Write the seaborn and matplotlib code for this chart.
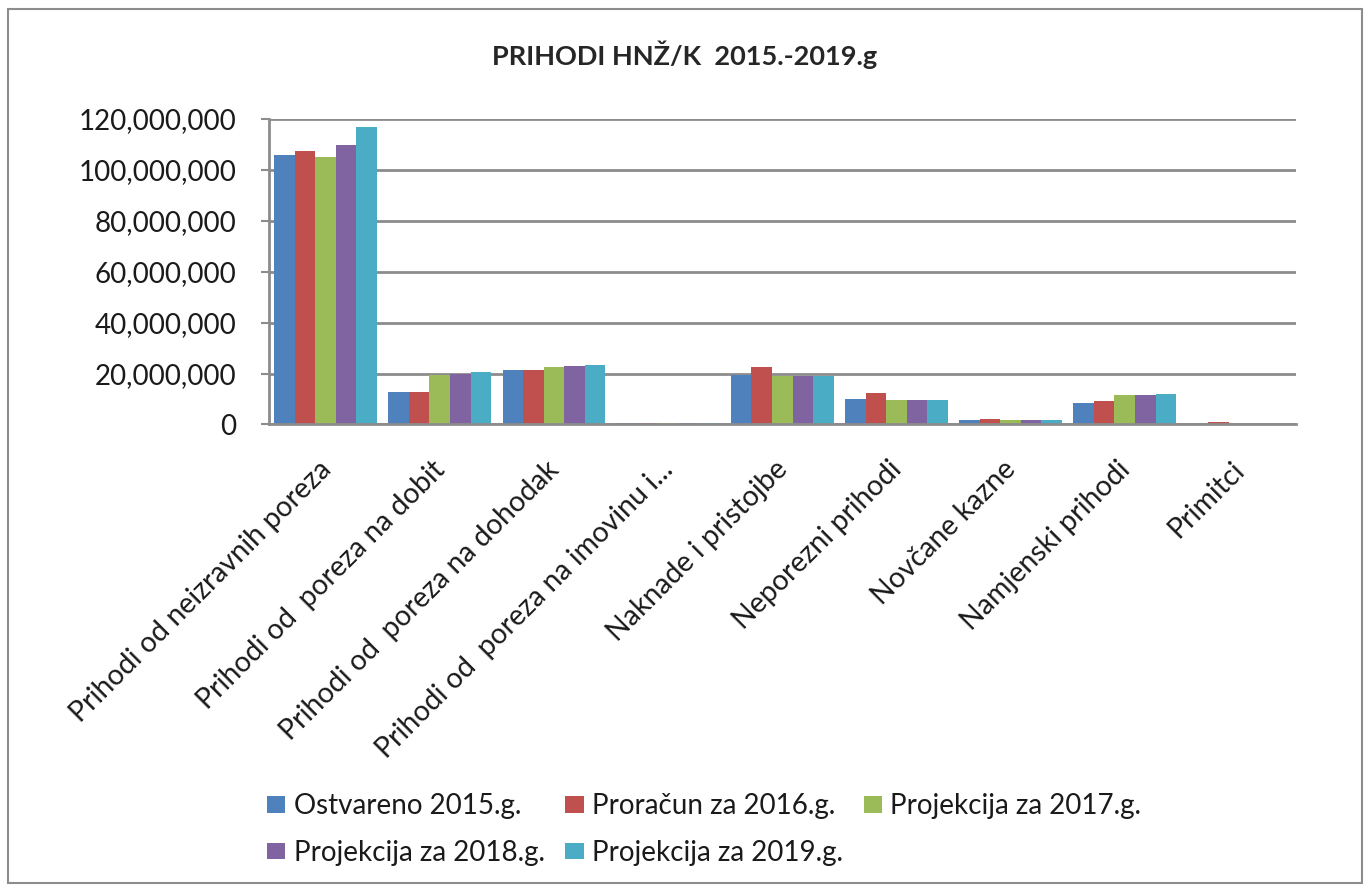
import pandas as pd
import matplotlib.pyplot as plt
import matplotlib.transforms as mtransforms
import seaborn as sns
from matplotlib.patches import Rectangle
from matplotlib.ticker import FuncFormatter

# data
categories = ["Prihodi od neizravnih poreza", "Prihodi od  poreza na dobit",
              "Prihodi od  poreza na dohodak", "Prihodi od  poreza na imovinu i...",
              "Naknade i pristojbe", "Neporezni prihodi", "Novčane kazne",
              "Namjenski prihodi", "Primitci"]
series = ["Ostvareno 2015.g.", "Proračun za 2016.g.", "Projekcija za 2017.g.",
          "Projekcija za 2018.g.", "Projekcija za 2019.g."]
ostvareno_2015 = [105.9e6, 12.8e6, 21.2e6, 0.4e6, 19.5e6, 10.1e6, 1.9e6, 8.3e6, 0.3e6]
proracun_2016 = [107.5e6, 12.7e6, 21.2e6, 0.4e6, 22.5e6, 12.3e6, 2.3e6, 9.2e6, 1.0e6]
projekcija_2017 = [105.0e6, 19.5e6, 22.5e6, 0.4e6, 18.9e6, 9.5e6, 1.8e6, 11.6e6, 0.3e6]
projekcija_2018 = [109.9e6, 19.9e6, 22.8e6, 0.4e6, 18.9e6, 9.6e6, 1.8e6, 11.6e6, 0.3e6]
projekcija_2019 = [116.9e6, 20.8e6, 23.2e6, 0.4e6, 18.9e6, 9.5e6, 1.8e6, 11.9e6, 0.3e6]
colors = ["#4F81BD", "#C0504D", "#9BBB59", "#8064A2", "#4BACC6"]

values = [ostvareno_2015, proracun_2016, projekcija_2017, projekcija_2018, projekcija_2019]
rows = []
for s, vals in zip(series, values):
    for c, v in zip(categories, vals):
        rows.append({"Kategorija": c, "Serija": s, "Iznos": v})
df = pd.DataFrame(rows)

sns.set_style("white")
plt.rcParams['font.family'] = ['Lato', 'DejaVu Sans']

fig = plt.figure(figsize=(13.7, 8.88), dpi=100)
ax = fig.add_axes([0.196, 0.522, 0.750, 0.344])

sns.barplot(data=df, x="Kategorija", y="Iznos", hue="Serija", palette=colors,
            width=0.9, ax=ax, saturation=1, edgecolor="none", legend=True)

ax.set_ylim(0, 120e6)
ax.set_yticks(range(0, 120000001, 20000000))
ax.yaxis.set_major_formatter(FuncFormatter(lambda v, p: f"{int(v):,}"))
ax.yaxis.grid(True, color="#8c8c8c", linewidth=2)
ax.set_axisbelow(True)
ax.set_xlabel("")
ax.set_ylabel("")
ax.tick_params(axis="y", labelsize=20, length=6, width=1.5, color="#8c8c8c",
               left=True, pad=17, labelcolor="#1a1a1a")
ax.tick_params(axis="x", labelsize=20.5, length=0, pad=20, labelcolor="#1a1a1a")
plt.setp(ax.get_xticklabels(), rotation=45, ha="right", rotation_mode="anchor")
shift = mtransforms.ScaledTranslation(-8 / 100, -4 / 100, fig.dpi_scale_trans)
for lab in ax.get_xticklabels():
    lab.set_transform(lab.get_transform() + shift)
for side in ["top", "right"]:
    ax.spines[side].set_visible(False)
ax.spines["left"].set_color("#8c8c8c")
ax.spines["left"].set_linewidth(2)
ax.spines["bottom"].set_color("#8c8c8c")
ax.spines["bottom"].set_linewidth(2)

# legend in two rows, row-major order
handles, labels = ax.get_legend_handles_labels()
ax.legend_.remove()
order = [0, 3, 1, 4, 2]
fig.legend([handles[i] for i in order], [labels[i] for i in order],
           loc="center", bbox_to_anchor=(0.514, 0.066), ncol=3, frameon=False,
           fontsize=20, handlelength=0.65, handleheight=0.55, handletextpad=0.3,
           columnspacing=0.75, labelspacing=0.75, labelcolor="#1a1a1a")

fig.text(0.5, 0.938, "PRIHODI HNŽ/K  2015.-2019.g", ha="center", va="center",
         fontsize=19.5, fontweight="bold")

fig.patches.append(Rectangle((0.006, 0.006), 0.988, 0.984, transform=fig.transFigure,
                             fill=False, edgecolor="#8c8c8c", linewidth=1.5))

fig.savefig("out.png", dpi=100)
